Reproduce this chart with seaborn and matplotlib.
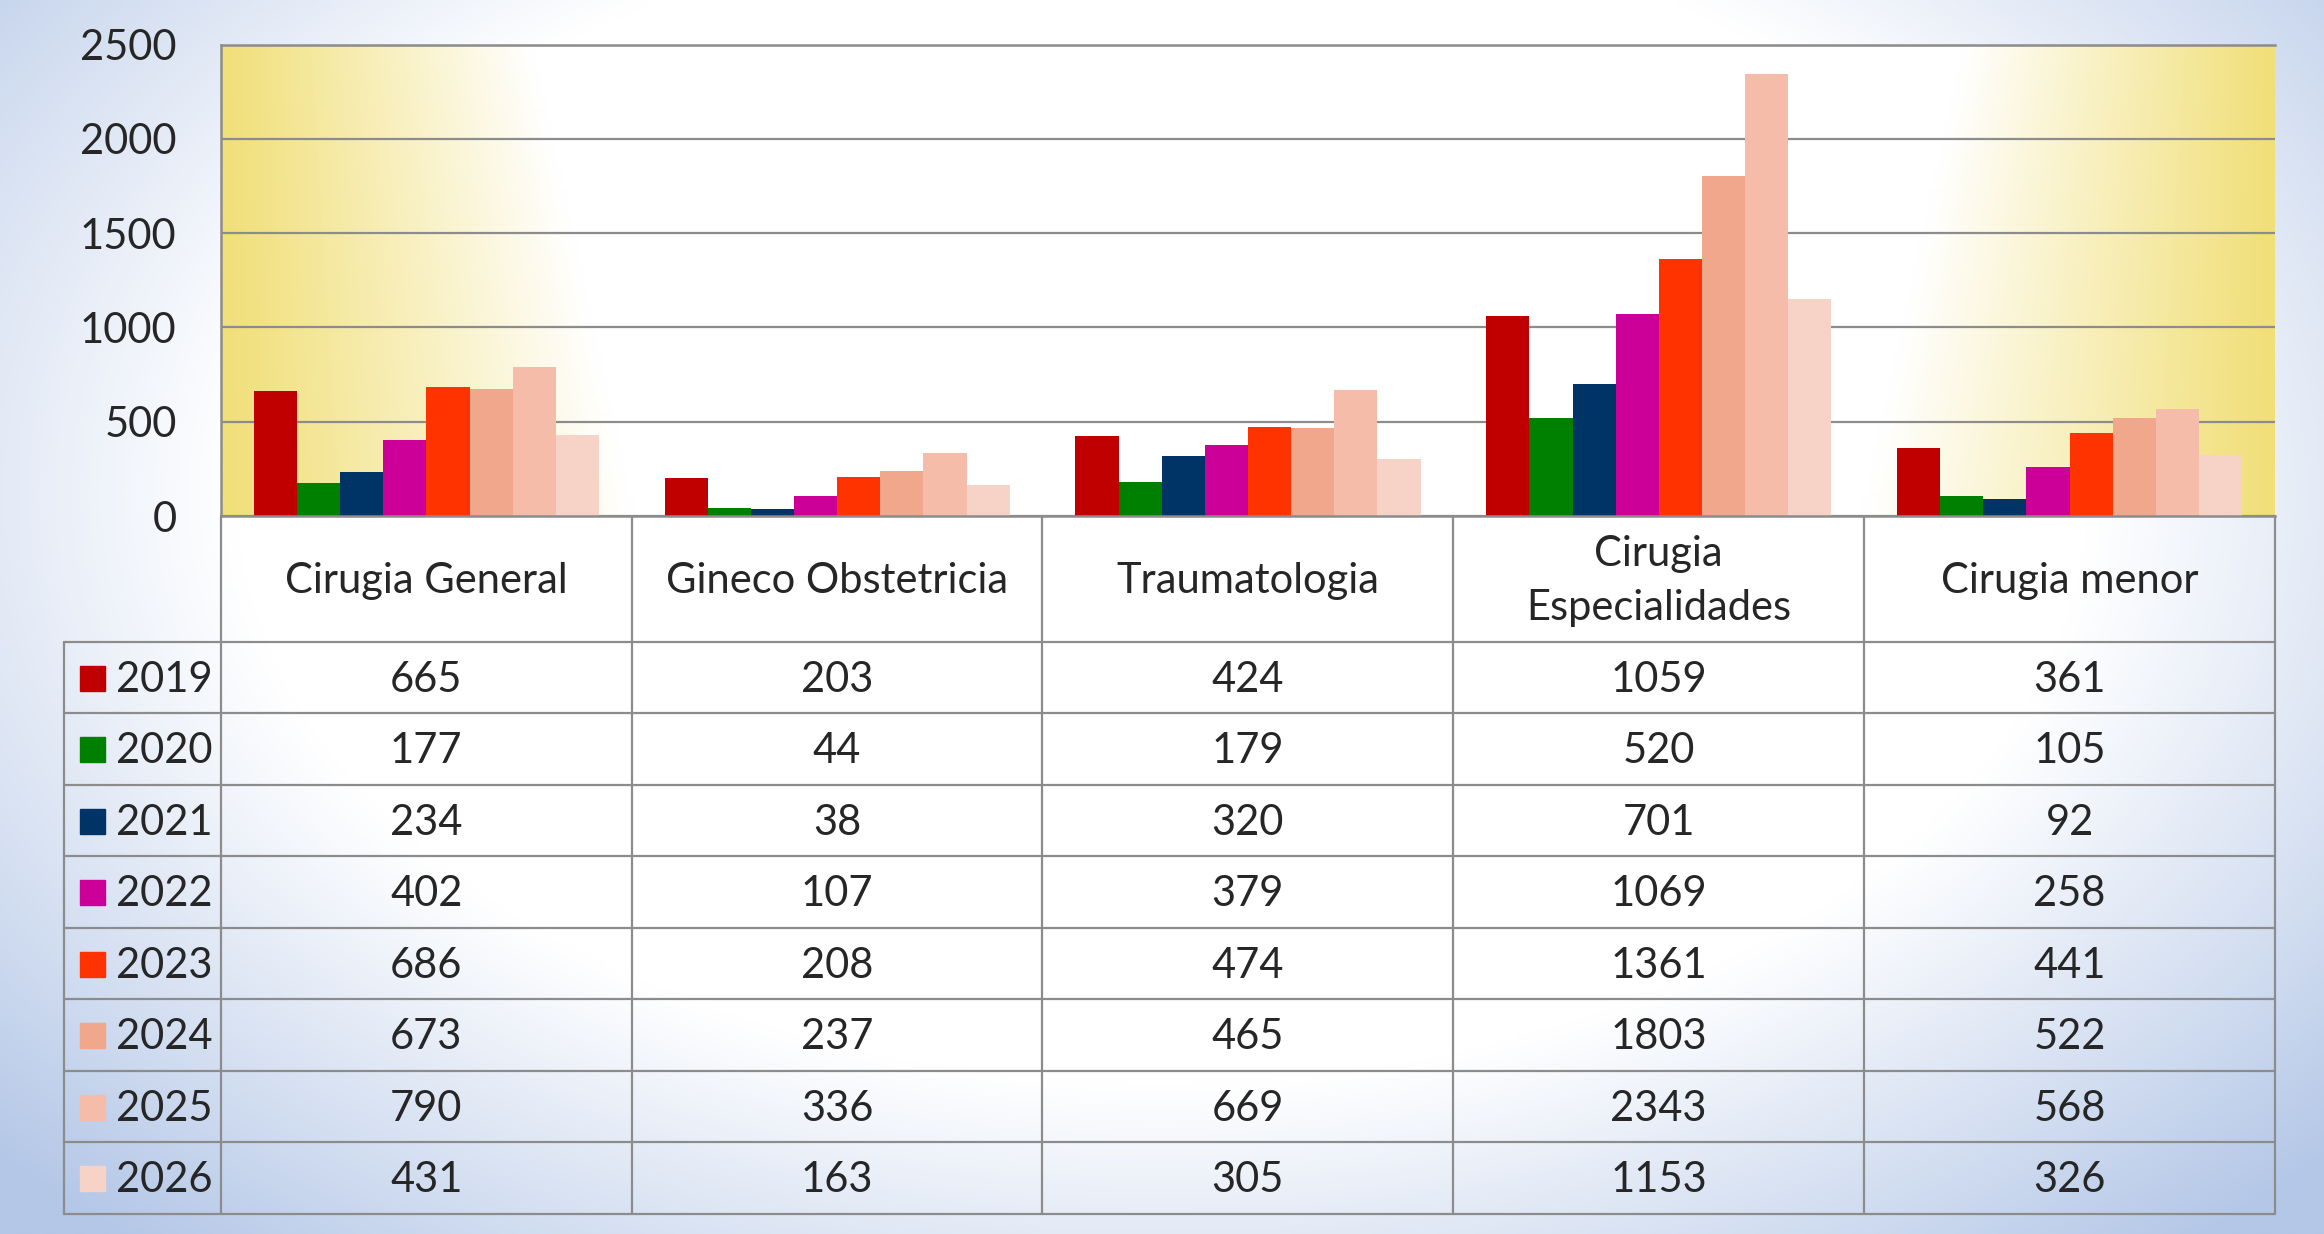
import numpy as np
import pandas as pd
import seaborn as sns
import matplotlib
matplotlib.use('Agg')
import matplotlib.pyplot as plt
from matplotlib.colors import to_rgb

categorias = ['Cirugia General', 'Gineco Obstetricia', 'Traumatologia',
              'Cirugia Especialidades', 'Cirugia menor']
encabezados = ['Cirugia General', 'Gineco Obstetricia', 'Traumatologia',
               'Cirugia\nEspecialidades', 'Cirugia menor']
anios = ['2019', '2020', '2021', '2022', '2023', '2024', '2025', '2026']
v2019 = [665, 203, 424, 1059, 361]
v2020 = [177, 44, 179, 520, 105]
v2021 = [234, 38, 320, 701, 92]
v2022 = [402, 107, 379, 1069, 258]
v2023 = [686, 208, 474, 1361, 441]
v2024 = [673, 237, 465, 1803, 522]
v2025 = [790, 336, 669, 2343, 568]
v2026 = [431, 163, 305, 1153, 326]
colores = ['#c00000', '#008000', '#003366', '#cc0099',
           '#ff3300', '#f0a78b', '#f4bca9', '#f7d2c6']
yticks = [0, 500, 1000, 1500, 2000, 2500]


def main():
    series = [v2019, v2020, v2021, v2022, v2023, v2024, v2025, v2026]
    filas = []
    for anio, vals in zip(anios, series):
        for cat, v in zip(categorias, vals):
            filas.append({'categoria': cat, 'anio': anio, 'valor': v})
    df = pd.DataFrame(filas)

    sns.set_style('white')
    plt.rcParams['font.family'] = ['Lato', 'DejaVu Sans']
    fs = 30
    gris = '#8c8c8c'

    fig = plt.figure(figsize=(23.24, 12.34), dpi=100)

    # fondo azul degradado
    bg = fig.add_axes([0, 0, 1, 1], zorder=-10)
    yy, xx = np.mgrid[0:1:300j, 0:1:560j]
    r = np.sqrt(((xx - 0.5) / 0.5) ** 2 + ((yy - 0.4) / 0.6) ** 2)
    t = np.clip((r - 0.8) / 0.55, 0, 1)[..., None]
    img = np.ones(3) * (1 - t) + np.array(to_rgb('#b4c7e7')) * t
    bg.imshow(img, extent=(0, 1, 0, 1), aspect='auto', interpolation='bilinear')
    bg.axis('off')

    # area del grafico
    ax = fig.add_axes([0.0951, 0.5818, 0.8838, 0.3821])
    ax.set_facecolor('none')
    ya, xa = np.mgrid[1:0:200j, 0:1:400j]
    w = 0.35 - 0.05 * (1 - ya)
    s = np.clip((np.abs(xa - 0.5) - w) / (0.5 - w), 0, 1)[..., None]
    img2 = np.ones(3) * (1 - s) + np.array(to_rgb('#f1df78')) * s
    ax.imshow(img2, extent=(-0.5, 4.5, 0, 2500), aspect='auto',
              interpolation='bilinear', zorder=0)

    sns.barplot(data=df, x='categoria', y='valor', hue='anio', palette=colores,
                width=0.84, saturation=1, linewidth=0, legend=False, ax=ax)

    ax.set_xlim(-0.5, 4.5)
    ax.set_ylim(0, 2500)
    ax.set_yticks(yticks)
    ax.set_yticklabels([str(v) for v in yticks], fontsize=fs)
    ax.set_xticks([])
    ax.set_xlabel('')
    ax.set_ylabel('')
    ax.tick_params(axis='y', length=0, pad=32)
    ax.set_axisbelow(True)
    ax.yaxis.grid(True, color=gris, lw=1.6)
    for lado in ['left', 'top', 'bottom']:
        ax.spines[lado].set_color(gris)
        ax.spines[lado].set_linewidth(1.8)
    ax.spines['right'].set_visible(False)

    # tabla de datos
    leg = 157 / 411
    hdr = 1.76
    n = len(anios)
    tab = fig.add_axes([0.0275, 0.0162, 0.9514, 0.5656])
    tab.set_facecolor('none')
    tab.set_xlim(-0.5 - leg, 4.5)
    tab.set_ylim(0, n + hdr)
    tab.axis('off')

    for k in range(n + 1):
        tab.plot([-0.5 - leg, 4.5], [k, k], color=gris, lw=1.6, clip_on=False)
    tab.plot([-0.5 - leg, -0.5 - leg], [0, n], color=gris, lw=1.6, clip_on=False)
    for k in range(len(categorias) + 1):
        tab.plot([k - 0.5, k - 0.5], [0, n + hdr], color=gris, lw=1.6, clip_on=False)

    for j, lab in enumerate(encabezados):
        tab.text(j, n + hdr / 2 - 0.03, lab, ha='center', va='center', fontsize=fs,
                 linespacing=1.5)

    for i, (anio, vals, col) in enumerate(zip(anios, series, colores)):
        yc = n - i - 0.53
        tab.plot([-0.5 - leg + 0.069], [yc + 0.03], marker='s', markersize=18,
                 color=col, lw=0)
        tab.text(-0.5 - leg + 0.127, yc, anio, ha='left', va='center', fontsize=fs)
        for j, v in enumerate(vals):
            tab.text(j, yc, str(v), ha='center', va='center', fontsize=fs)

    fig.savefig('out.png', dpi=100)


if __name__ == '__main__':
    main()
